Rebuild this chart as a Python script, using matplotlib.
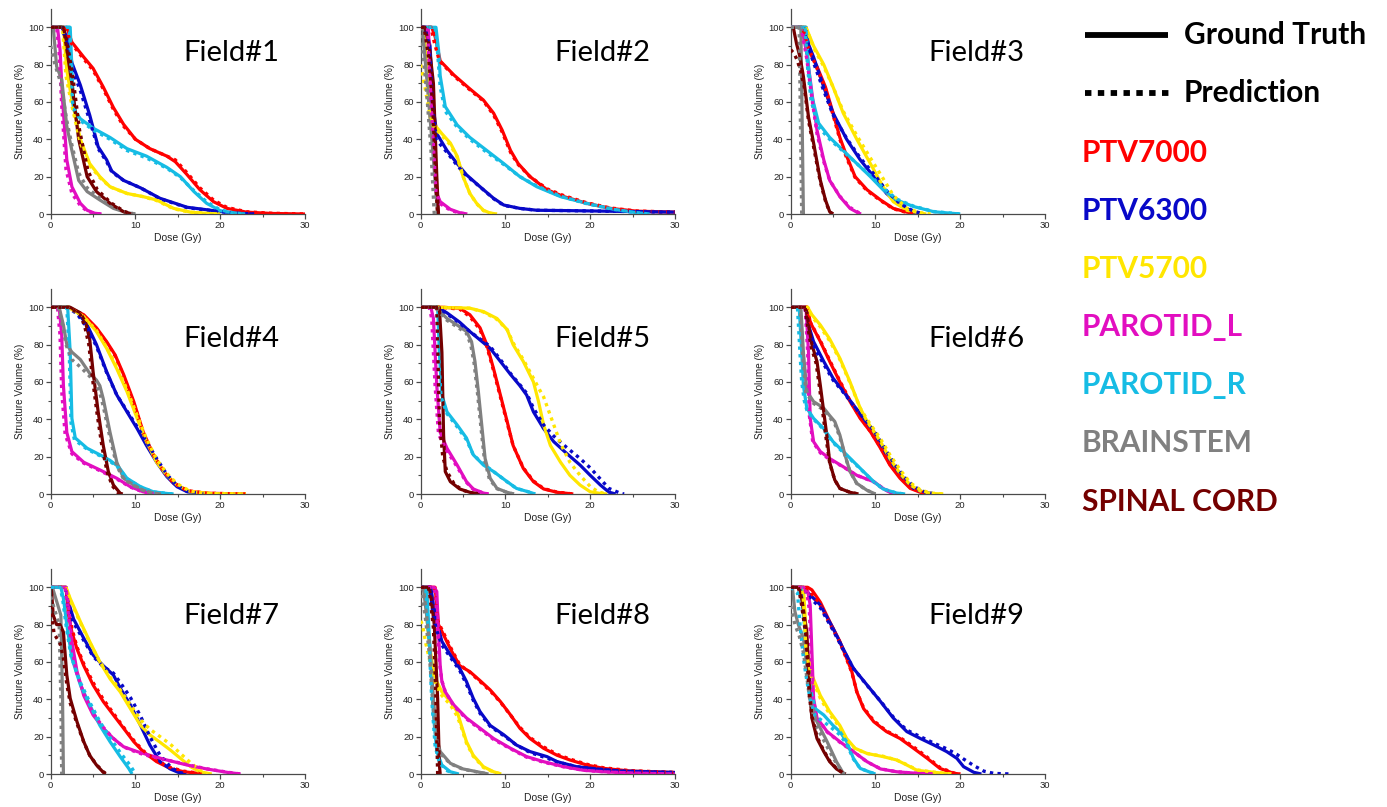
import matplotlib
matplotlib.use("Agg")
import matplotlib.pyplot as plt
from matplotlib.lines import Line2D

STRUCTURES = ["PTV7000", "PTV6300", "PTV5700", "PAROTID_L", "PAROTID_R", "BRAINSTEM", "SPINAL CORD"]
COLORS = ["#FF0000", "#0808C8", "#FFE600", "#E20EC0", "#16BCE4", "#808080", "#740000"]
FIELD_NAMES = ["Field#1", "Field#2", "Field#3", "Field#4", "Field#5", "Field#6", "Field#7", "Field#8", "Field#9"]
X_TICKS = [0, 10, 20, 30]
Y_TICKS = [0, 20, 40, 60, 80, 100]

# ---- Field 1 ----
F1_GT = {
    "PTV7000": [(0,100),(1.9,100),(2.5,92),(3.9,84),(5.0,78),(6.2,68),(7.4,57),(8.6,48),(10,40),(11.7,35),(13.7,31),(14.7,28),(16.1,21),(17.6,13),(19.2,6.6),(20.8,3),(23.1,1),(26,0.3),(30,0)],
    "PTV6300": [(0,100),(1.3,100),(1.9,95),(2.5,81),(3.5,69),(4.6,53),(5.6,36),(6.6,29),(7.2,23),(8.6,18),(10.6,14),(12.9,8.4),(16.1,3.6),(19.2,1.8),(21.6,0.5),(24,0)],
    "PTV5700": [(0,100),(1.5,100),(1.9,77),(2.5,61),(3.5,40),(4.6,27),(5.8,20),(7.0,14.6),(9.0,11),(10.9,9.3),(12.5,7.5),(14.5,3),(16.5,1),(18.5,0.3),(20,0)],
    "PAROTID_L": [(0,100),(0.8,100),(1.1,88),(1.4,61),(1.9,29),(2.5,14.6),(3.5,5.7),(4.3,2),(5.2,0.4),(6,0)],
    "PAROTID_R": [(0,100),(2.3,100),(2.7,56),(3.5,51),(5.0,46),(7.0,41),(9.0,35),(11.3,31),(13.7,25),(15.3,20),(16.9,12),(18.4,5.7),(20,1.8),(21.6,0.5),(23,0)],
    "BRAINSTEM": [(0,100),(0.3,100),(0.7,79),(1.3,72),(1.9,47),(2.5,34),(3.3,18),(4.3,12),(5.8,7.5),(7.4,3),(9.0,0.7),(10,0)],
    "SPINAL CORD": [(0,100),(1.5,100),(1.9,88),(2.5,70),(3.3,40),(4.3,20),(5.4,12),(7.0,5.7),(8.6,1.2),(9.5,0)],
}
F1_PRED = {
    "PTV7000": [(0,100),(1.8,100),(2.2,94),(2.5,91),(3.9,83),(5.0,77),(6.2,67),(7.4,56),(8.6,47),(10,40),(11.7,35),(13.7,31),(14.7,29),(16.1,22),(17.6,14),(19.2,7.5),(20.8,3.5),(23.1,1.2),(26,0.4),(30,0)],
    "PTV6300": [(0,100),(1.2,100),(1.9,93),(2.5,78),(3.5,66),(4.6,50),(5.6,35),(6.6,28),(7.2,22.5),(8.6,18),(10.6,14),(12.9,8.2),(16.1,3.4),(19.2,1.7),(21.6,0.5),(24,0)],
    "PTV5700": [(0,100),(1.4,100),(1.8,74),(2.5,58),(3.5,38),(4.6,26),(5.8,19.5),(7.0,14.5),(9.0,11),(10.9,9.3),(12.5,7.2),(14.5,2.8),(16.5,0.9),(18.5,0.3),(20,0)],
    "PAROTID_L": [(0,100),(0.7,100),(1.0,86),(1.3,58),(1.8,24),(2.5,11),(3.5,4.5),(4.3,1.5),(5.2,0.3),(6,0)],
    "PAROTID_R": [(0,100),(2.2,100),(2.6,58),(3.5,50),(5.0,45),(7.0,40),(9.0,34),(11.3,30),(13.7,24.5),(15.3,19.5),(16.9,12.5),(18.4,6.5),(20,2.2),(21.6,0.6),(23,0)],
    "BRAINSTEM": [(0,90),(0.5,80),(1.2,70),(1.9,50),(2.5,37),(3.3,22),(4.3,14),(5.8,8.5),(7.4,3.5),(9.0,0.8),(10,0)],
    "SPINAL CORD": [(0,100),(1.5,100),(2.0,90),(2.6,74),(3.4,45),(4.4,23),(5.5,13),(7.1,6),(8.7,1.3),(9.6,0)],
}

# ---- Field 2 ----
F2_GT = {
    "PTV7000": [(0,100),(1.3,100),(1.7,95),(2.3,82),(3.9,74.5),(5.8,67),(7.4,61),(8.6,54),(9.6,45),(10.6,34),(11.5,27),(12.9,20),(14.9,13),(16.9,9.3),(19.6,5.7),(22.4,3),(25.5,1.5),(30,1)],
    "PTV6300": [(0,100),(0.6,100),(1.1,90),(1.5,56),(1.9,43),(3.1,34),(4.3,27),(5.4,21),(7.0,14.6),(8.6,8.4),(9.8,4.8),(11.7,3),(13.7,2),(17.6,1.8),(25,1.3),(30,1)],
    "PTV5700": [(0,100),(0.3,100),(0.5,92),(0.9,70),(1.1,52),(1.5,48.6),(2.5,43),(3.5,38),(4.3,31),(5.0,20),(5.8,11),(6.6,5.7),(7.4,2),(8.2,0.5),(9,0)],
    "PAROTID_L": [(0,100),(0.9,100),(1.1,79),(1.5,43),(1.9,11),(2.3,6.6),(3.5,2.5),(4.6,0.7),(5.5,0)],
    "PAROTID_R": [(0,100),(1.8,100),(2.1,88),(2.3,74),(2.9,57.5),(4.3,47.7),(5.8,41),(7.8,34),(9.8,27),(11.7,20),(13.7,14.6),(16.5,9.3),(19.6,5.7),(22.8,2.5),(25.5,0.7),(27,0)],
    "BRAINSTEM": [(0,100),(0.2,100),(0.8,68),(1.4,35),(2.0,0)],
    "SPINAL CORD": [(0,100),(0.5,100),(1.0,90),(1.5,70),(1.9,20),(2.1,0)],
}
F2_PRED = {
    "PTV7000": [(0,100),(1.2,100),(1.6,92),(2.2,82),(3.9,74),(5.8,66.5),(7.4,60.5),(8.6,53),(9.6,44),(10.6,33),(11.5,26.5),(12.9,20),(14.9,13.5),(16.9,9.8),(19.6,6),(22.4,3.2),(25.5,1.6),(30,1)],
    "PTV6300": [(0,100),(0.5,100),(1.0,90),(1.4,58),(1.8,40),(3.1,33),(4.3,26),(5.4,20.5),(7.0,14.5),(8.6,8.2),(9.8,4.6),(11.7,3),(13.7,2),(17.6,1.8),(25,1.3),(30,1)],
    "PTV5700": [(0,80),(0.5,68),(1.0,55),(1.5,47),(2.5,42),(3.5,37),(4.3,30.5),(5.0,20),(5.8,11),(6.6,5.5),(7.4,1.8),(8.2,0.4),(9,0)],
    "PAROTID_L": [(0,100),(0.8,100),(1.0,80),(1.4,45),(1.8,12),(2.3,5.5),(3.5,2),(4.6,0.5),(5.5,0)],
    "PAROTID_R": [(0,100),(1.7,100),(2.0,86),(2.3,68),(2.9,55),(4.3,46.5),(5.8,40),(7.8,33),(9.8,26.5),(11.7,20),(13.7,15),(16.5,9.5),(19.6,5.5),(22.8,2.4),(25.5,0.7),(27,0)],
    "BRAINSTEM": [(0,100),(0.1,95),(0.7,65),(1.2,35),(1.6,0)],
    "SPINAL CORD": [(0,100),(0.4,100),(0.9,85),(1.4,60),(1.8,15),(2.0,0)],
}

# ---- Field 3 ----
F3_GT = {
    "PTV7000": [(0,100),(1.5,100),(2.1,88),(3.1,79),(4.1,68),(5.0,54),(5.8,41),(6.6,31),(7.6,20),(9.0,13),(10.6,7.5),(12.1,3),(13.7,1),(15,0)],
    "PTV6300": [(0,100),(1.8,100),(2.1,91),(2.7,84),(3.9,68),(5.0,54),(6.6,40),(8.2,29),(9.8,20),(11.3,11),(12.9,4.8),(14.5,1.2),(15.5,0)],
    "PTV5700": [(0,100),(1.8,100),(2.7,90),(3.9,80),(5.0,68),(6.2,54),(7.8,40),(9.4,27),(10.9,14.6),(12.1,6.6),(13.7,2),(15.3,0.5),(16,0)],
    "PAROTID_L": [(0,100),(1.2,100),(1.5,95),(1.9,86),(2.5,65),(3.1,45),(3.9,29),(4.6,18),(5.8,9.3),(7.0,3),(8.0,0.5),(8.3,0)],
    "PAROTID_R": [(0,100),(1.8,100),(2.1,79),(2.5,63),(3.3,48.6),(4.6,41),(6.2,34),(7.8,27),(9.4,20),(10.9,13),(12.5,7.5),(14.5,4),(16.9,1.2),(20,0)],
    "BRAINSTEM": [(0,100),(1.2,100),(1.35,50),(1.5,0)],
    "SPINAL CORD": [(0,100),(0.3,100),(0.7,91),(1.1,84),(1.5,73.6),(2.1,52),(2.7,38),(3.5,18),(4.1,7.5),(4.6,1.2),(5.0,0)],
}
F3_PRED = {
    "PTV7000": [(0,100),(1.4,100),(2.0,90),(3.1,78),(4.1,67),(5.0,53),(5.8,40),(6.6,30),(7.6,19.5),(9.0,12.5),(10.6,7.2),(12.1,2.8),(13.7,0.8),(15,0)],
    "PTV6300": [(0,100),(1.8,100),(2.1,89),(2.7,81),(3.9,66),(5.0,53),(6.6,40.5),(8.2,30),(9.8,21.5),(11.3,12.5),(12.9,5.5),(14.5,1.5),(15.7,0)],
    "PTV5700": [(0,100),(1.8,100),(2.7,89),(3.9,79),(5.0,68),(6.2,55),(7.8,42),(9.4,30),(10.9,19),(12.1,10),(13.7,3),(15.3,0.7),(16.5,0)],
    "PAROTID_L": [(0,100),(1.1,100),(1.5,93),(1.9,83),(2.5,62),(3.1,43),(3.9,28),(4.6,18),(5.8,9.5),(7.0,3.5),(8.0,0.8),(8.4,0)],
    "PAROTID_R": [(0,100),(1.7,100),(2.0,78),(2.4,61),(3.2,47),(4.6,40),(6.2,33.5),(7.8,27),(9.4,20.5),(10.9,14),(12.5,8),(14.5,4.2),(16.9,1.3),(20,0)],
    "BRAINSTEM": [(0,100),(1.0,100),(1.15,50),(1.3,0)],
    "SPINAL CORD": [(0,88),(0.4,86),(0.8,82),(1.2,76),(1.6,68),(2.1,50),(2.7,36),(3.5,17),(4.1,7),(4.6,1),(5.0,0)],
}

# ---- Field 4 ----
F4_GT = {
    "PTV7000": [(0,100),(2.1,100),(3.9,96),(5.4,89),(6.6,81.6),(7.6,74.5),(8.6,64),(9.8,49.5),(10.9,33.4),(12.1,21),(13.3,12),(14.5,5.7),(16.1,1.6),(18.4,0.4),(23,0)],
    "PTV6300": [(0,100),(2.1,100),(3.1,97.7),(4.3,90.5),(5.4,80),(6.6,65.5),(7.8,53),(9.0,44),(10.2,35),(11.3,26),(12.5,17),(13.7,9.3),(14.9,3.9),(16.1,1.2),(18,0)],
    "PTV5700": [(0,100),(2.1,100),(3.9,95),(5.4,87),(6.6,78),(7.8,67),(9.0,54.8),(10.2,40.5),(11.3,28),(12.5,17),(13.7,10),(14.9,4.8),(16.5,1.2),(19,0.2),(23,0)],
    "PAROTID_L": [(0,100),(1.0,100),(1.3,85),(1.5,58),(1.9,33),(2.5,22.7),(3.9,17),(5.8,12.9),(7.8,8.4),(9.4,3.9),(10.9,1.2),(12.1,0.2),(12.5,0)],
    "PAROTID_R": [(0,100),(2.0,100),(2.3,76),(2.5,40.5),(2.9,30),(4.3,24.5),(5.8,21),(7.0,18),(8.0,14.6),(9.0,8.4),(10.6,3.9),(12.1,1.2),(13.7,0.3),(14.5,0)],
    "BRAINSTEM": [(0,100),(1.0,100),(1.5,90.5),(1.9,80),(2.5,76),(3.5,72),(4.6,64.6),(5.4,61),(5.8,58),(6.2,51),(7.0,33),(7.8,17),(8.6,8.4),(9.8,4.8),(10.9,2),(12.1,0.5),(13,0)],
    "SPINAL CORD": [(0,100),(2.3,100),(3.5,97),(4.1,92),(4.6,83),(5.0,65.5),(5.6,44),(6.2,26),(6.8,12),(7.4,4.8),(8.2,0.4),(8.5,0)],
}
F4_PRED = {
    "PTV7000": [(0,100),(2.0,100),(3.9,95.5),(5.4,88.5),(6.6,81),(7.6,74),(8.6,63),(9.8,48.5),(10.9,33),(12.1,21),(13.3,12.3),(14.5,6),(16.1,1.8),(18.4,0.4),(23,0)],
    "PTV6300": [(0,100),(2.0,100),(3.1,96.5),(4.3,89),(5.4,79),(6.6,65),(7.8,53),(9.0,44.5),(10.2,36),(11.3,28),(12.5,19),(13.7,10.5),(14.9,4.5),(16.1,1.4),(18,0)],
    "PTV5700": [(0,100),(2.1,100),(3.9,95),(5.4,87.5),(6.6,78.5),(7.8,68),(9.0,56),(10.2,42),(11.3,29.5),(12.5,18.5),(13.7,11),(14.9,5.5),(16.5,1.4),(19,0.2),(23,0)],
    "PAROTID_L": [(0,100),(0.8,100),(1.1,85),(1.3,55),(1.7,32),(2.5,21.5),(3.9,16.5),(5.8,12.5),(7.8,8),(9.4,3.7),(10.9,1.1),(12.1,0.2),(12.5,0)],
    "PAROTID_R": [(0,100),(1.9,100),(2.2,74),(2.4,38),(2.8,29),(4.3,24),(5.8,20.5),(7.0,17.5),(8.0,14),(9.0,8.2),(10.6,3.8),(12.1,1.1),(13.7,0.3),(14.5,0)],
    "BRAINSTEM": [(0,100),(0.9,100),(1.4,90),(1.8,80),(2.5,72),(3.5,68),(4.6,63),(5.4,58),(5.8,54),(6.2,47),(7.0,30),(7.8,15),(8.6,8),(9.8,4.5),(10.9,2),(12.1,0.5),(13,0)],
    "SPINAL CORD": [(0,100),(2.2,100),(3.5,96),(4.0,90),(4.5,80),(4.9,63),(5.5,42),(6.1,24),(6.7,11),(7.3,4.2),(8.0,0.4),(8.3,0)],
}

# ---- Field 5 ----
F5_GT = {
    "PTV7000": [(0,100),(2.5,100),(4.6,99.5),(5.8,96),(7.0,89),(7.8,80),(8.6,67),(9.4,53),(10.2,38.8),(10.9,26),(12.1,13.75),(13.3,6.6),(14.5,2.7),(16.1,0.9),(18,0)],
    "PTV6300": [(0,100),(2.0,100),(3.1,97),(4.6,92),(5.8,87),(7.0,82.5),(8.2,78),(9.4,71),(10.6,64),(11.7,58),(12.5,53),(13.3,44),(14.5,35),(15.7,28),(17.2,21.8),(18.8,15.5),(20,10),(21.2,4.8),(22.2,1),(23,0)],
    "PTV5700": [(0,100),(2.0,100),(5.8,99.5),(7.4,97.7),(9.0,94),(10.2,88),(10.9,80),(12.1,71),(13.3,60),(13.9,49.5),(14.5,37),(15.3,26),(16.5,17),(17.6,10),(18.8,4.8),(20,1.2),(21.2,0.3),(22,0)],
    "PAROTID_L": [(0,100),(1.2,100),(1.5,94),(1.9,58),(2.3,33),(3.1,24.5),(4.3,15.5),(5.4,6.6),(6.2,2.7),(7.4,0.5),(8,0)],
    "PAROTID_R": [(0,100),(2.0,100),(2.2,76),(2.5,53),(3.1,44),(4.3,37),(5.4,30),(6.2,21),(7.4,15.5),(8.6,12),(10.2,6.6),(11.3,3),(12.9,0.9),(13.5,0)],
    "BRAINSTEM": [(0,100),(1.5,100),(1.9,99.5),(3.1,94),(4.3,90.5),(5.4,87),(6.0,81.6),(6.4,71),(6.8,55),(7.2,37),(7.6,19),(8.2,8.4),(9.0,3),(10.2,0.9),(11,0)],
    "SPINAL CORD": [(0,100),(2.2,100),(2.5,76),(2.7,31.6),(2.9,12),(3.5,6.6),(4.6,2.7),(5.8,0.9),(7,0)],
}
F5_PRED = {
    "PTV7000": [(0,100),(2.4,100),(4.6,99),(5.8,95),(7.0,88),(7.8,79),(8.6,66),(9.4,52),(10.2,38),(10.9,26),(12.1,14),(13.3,7),(14.5,2.9),(16.1,1),(18,0)],
    "PTV6300": [(0,100),(2.0,100),(3.1,96.5),(4.6,91.5),(5.8,87),(7.0,83),(8.2,79),(9.4,72),(10.6,64.5),(11.7,58.5),(12.5,54),(13.3,46),(14.5,37),(15.7,31),(17.2,25),(18.8,19),(20,14),(21.2,8),(22.2,3),(23.5,0.5),(24,0)],
    "PTV5700": [(0,100),(2.0,100),(5.8,99.5),(7.4,97.5),(9.0,93.5),(10.2,88),(10.9,81),(12.1,72),(13.3,62),(14.0,56),(14.5,52),(15.3,42),(16.5,27),(17.6,17),(18.8,10),(20,4),(21,1),(22,0)],
    "PAROTID_L": [(0,100),(1.0,100),(1.3,94),(1.7,58),(2.1,32),(3.1,23),(4.3,14.5),(5.4,6.2),(6.2,2.5),(7.4,0.5),(8,0)],
    "PAROTID_R": [(0,100),(1.9,100),(2.1,74),(2.4,52),(3.1,43),(4.3,36),(5.4,29),(6.2,21),(7.4,16),(8.6,12),(10.2,6.5),(11.3,3),(12.9,0.9),(13.5,0)],
    "BRAINSTEM": [(0,100),(1.4,100),(1.9,99),(3.1,93),(4.3,89.5),(5.4,86),(5.9,80),(6.3,70),(6.7,54),(7.1,36),(7.5,19),(8.1,8),(9.0,2.8),(10.2,0.8),(11,0)],
    "SPINAL CORD": [(0,100),(1.9,100),(2.0,80),(2.2,40),(2.6,20),(3.1,12),(4.0,5),(5.0,2),(6.0,0.5),(6.5,0)],
}

# ---- Field 6 ----
F6_GT = {
    "PTV7000": [(0,100),(2.0,100),(2.3,92),(3.5,81.6),(4.6,71),(5.8,60),(7.0,49.5),(8.2,40.5),(9.4,33.4),(10.6,24.5),(11.7,15.5),(12.9,8.4),(14.1,3),(15.3,0.9),(16,0)],
    "PTV6300": [(0,100),(1.8,100),(2.1,90.5),(2.7,81.6),(3.9,71),(5.0,62),(6.2,55),(7.4,47.7),(8.6,40.5),(9.8,33.4),(10.9,24.5),(12.1,15.5),(13.3,8.4),(14.5,3),(15.7,0.9),(17,0)],
    "PTV5700": [(0,100),(2.0,100),(2.5,96),(3.5,90.5),(4.6,83),(5.8,72.7),(7.0,60),(8.2,46),(9.0,39),(10.6,28),(11.7,19),(12.9,11),(14.1,4.8),(15.3,1.6),(16.5,0.3),(18,0)],
    "PAROTID_L": [(0,100),(1.8,100),(2.1,76),(2.3,40.5),(2.7,28),(3.5,22.7),(4.6,19),(6.2,14.6),(7.8,10),(9.8,6.6),(10.9,3),(11.9,0.4),(12.5,0)],
    "PAROTID_R": [(0,100),(1.0,100),(1.3,76),(1.5,58),(1.9,46),(2.7,40.5),(3.9,35),(5.0,28),(6.6,21),(8.2,13.75),(9.8,6.6),(10.9,2.7),(12.5,0.5),(13.5,0)],
    "BRAINSTEM": [(0,100),(1.2,100),(1.5,76),(1.9,55),(2.7,49.5),(3.9,46),(4.6,42),(5.2,38.8),(5.8,31.6),(6.4,21),(7.0,12),(7.8,5.7),(9.0,2),(9.8,0.4),(10,0)],
    "SPINAL CORD": [(0,100),(1.8,100),(2.1,90.5),(2.5,80),(3.1,71),(3.5,58),(3.9,44),(4.3,30),(4.6,17),(5.2,7.5),(5.8,3),(7.0,0.9),(8,0)],
}
F6_PRED = {
    "PTV7000": [(0,100),(1.9,100),(2.2,93),(3.5,82),(4.6,71.5),(5.8,60.5),(7.0,50),(8.2,41),(9.4,33.5),(10.6,25),(11.7,16),(12.9,9),(14.1,3.5),(15.3,1.1),(16.2,0)],
    "PTV6300": [(0,100),(1.7,100),(2.0,88),(2.7,79),(3.9,69.5),(5.0,61),(6.2,54.5),(7.4,47.5),(8.6,40.5),(9.8,34),(10.9,26),(12.1,17),(13.3,9.5),(14.5,4),(15.7,1.3),(17,0)],
    "PTV5700": [(0,100),(2.0,100),(2.5,95),(3.5,89.5),(4.6,82),(5.8,72),(7.0,59.5),(8.2,46),(9.0,40),(10.6,29.5),(11.7,21),(12.9,13),(14.1,6),(15.3,2.2),(16.5,0.5),(18,0)],
    "PAROTID_L": [(0,100),(1.7,100),(2.0,76),(2.2,42),(2.6,28),(3.5,22),(4.6,18.5),(6.2,14.5),(7.8,10),(9.8,6.5),(10.9,3),(11.9,0.4),(12.5,0)],
    "PAROTID_R": [(0,100),(0.8,100),(1.1,75),(1.3,60),(1.6,50),(1.9,45),(2.7,40),(3.9,34.5),(5.0,27.5),(6.6,20.5),(8.2,13.5),(9.8,6.5),(10.9,2.7),(12.5,0.5),(13.5,0)],
    "BRAINSTEM": [(0,100),(1.1,100),(1.4,75),(1.8,54),(2.7,48.5),(3.9,45),(4.6,41),(5.2,37.5),(5.8,30.5),(6.4,20.5),(7.0,12),(7.8,5.5),(9.0,2),(9.8,0.4),(10,0)],
    "SPINAL CORD": [(0,100),(1.7,100),(2.0,90),(2.4,79),(3.0,70),(3.4,57),(3.8,43),(4.2,29),(4.6,16.5),(5.2,7.5),(5.8,3),(7.0,0.9),(8,0)],
}

# ---- Field 7 ----
F7_GT = {
    "PTV7000": [(0,100),(1.8,100),(2.1,85),(2.5,76),(3.1,67),(3.9,58),(5.0,47.7),(6.2,38.8),(7.4,31.6),(8.6,24.5),(9.8,17.3),(10.9,12),(12.5,6.6),(14.1,3),(15.7,1.2),(17.6,0.3),(18,0)],
    "PTV6300": [(0,100),(1.8,100),(2.1,92),(2.7,83),(3.9,72.7),(5.0,63.75),(6.2,58),(7.4,53),(8.2,46),(9.4,37),(10.6,26),(11.7,15.5),(12.9,6.6),(14.1,2.7),(15.3,0.4),(16,0)],
    "PTV5700": [(0,100),(1.8,100),(2.3,94),(3.5,81.6),(4.6,71),(5.8,60),(7.0,51),(8.2,44),(9.4,35),(10.6,26),(11.7,21),(12.9,17),(14.1,12.9),(15.3,8.4),(16.5,3.9),(17.6,1.2),(19,0)],
    "PAROTID_L": [(0,100),(1.8,100),(2.1,90.5),(2.5,71),(3.1,55),(3.9,42),(5.0,31.6),(6.2,24.5),(7.4,19),(8.6,14.6),(10.2,12),(11.7,10),(13.7,7.5),(16.1,4.8),(18.4,2.7),(20.8,0.9),(22.4,0)],
    "PAROTID_R": [(0,100),(1.2,100),(1.5,94),(1.9,80),(2.5,62),(3.5,47.7),(4.6,37),(5.8,26),(7.0,17.3),(8.2,9.3),(9.2,3),(9.6,0)],
    "BRAINSTEM": [(0,100),(0.2,100),(1.2,85),(1.4,40),(1.5,0)],
    "SPINAL CORD": [(0,100),(0.1,97.7),(0.3,85),(0.7,80),(1.1,80),(1.5,76),(1.9,53),(2.3,40.5),(3.1,28),(3.9,17.3),(4.6,10),(5.4,4.8),(6.2,0.9),(6.5,0)],
}
F7_PRED = {
    "PTV7000": [(0,100),(1.8,100),(2.1,87),(2.5,78),(3.1,68),(3.9,59),(5.0,49),(6.2,40),(7.4,32.5),(8.6,25),(9.8,18),(10.9,12.5),(12.5,7),(14.1,3.5),(15.7,1.5),(17.6,0.4),(18.2,0)],
    "PTV6300": [(0,100),(1.7,100),(2.0,90),(2.7,81),(3.9,71.5),(5.0,63),(6.2,57.5),(7.4,54),(8.2,49),(9.4,41),(10.6,31),(11.7,20),(12.9,10),(14.1,4),(15,1),(16,0)],
    "PTV5700": [(0,100),(1.8,100),(2.3,93),(3.5,81),(4.6,70.5),(5.8,60),(7.0,52),(8.2,45),(9.4,37),(10.6,29),(11.7,24),(12.9,20),(14.1,16),(15.3,11),(16.5,6),(17.6,2),(18.5,0)],
    "PAROTID_L": [(0,100),(1.7,100),(2.0,90),(2.4,70),(3.0,55),(3.9,43),(5.0,32.5),(6.2,25),(7.4,19),(8.6,14.5),(10.2,11.5),(11.7,9.5),(13.7,7.5),(16.1,5),(18.4,2.8),(20.8,1),(22.4,0)],
    "PAROTID_R": [(0,100),(1.1,100),(1.4,94),(1.8,80),(2.4,63),(3.5,49),(4.6,38.5),(5.8,28),(7.0,19.5),(8.2,11.5),(9.4,4.5),(10.0,0)],
    "BRAINSTEM": [(0,95),(1.0,80),(1.2,40),(1.3,0)],
    "SPINAL CORD": [(0,90),(0.4,75),(1.1,70),(1.5,62),(1.9,48),(2.3,38),(3.1,27),(3.9,17),(4.6,10),(5.4,5),(6.2,1.2),(6.6,0)],
}

# ---- Field 8 ----
F8_GT = {
    "PTV7000": [(0,100),(1.7,100),(2.1,80),(2.7,74.5),(3.5,67),(4.6,58),(5.8,54.8),(7.0,50),(8.2,45),(9.4,38.8),(10.6,31.6),(11.7,24.5),(12.9,19),(14.5,13.75),(16.1,10),(17.6,7.5),(19.6,4.8),(21.6,3),(24.7,1.6),(30,0.8)],
    "PTV6300": [(0,100),(1.2,100),(1.5,90.5),(1.9,81.6),(2.5,71),(3.5,63.75),(4.6,56.6),(5.4,49.5),(6.2,40.5),(7.0,33.4),(8.2,26),(9.8,21),(11.3,15.5),(12.9,12),(14.9,9.3),(16.1,6.6),(18.4,3.9),(20.8,2.7),(23.5,1.6),(30,0.8)],
    "PTV5700": [(0,100),(0.5,100),(0.7,85),(1.1,67),(1.5,55),(1.9,49.5),(2.5,44),(3.5,38.8),(4.3,33.4),(4.8,26),(5.4,17.3),(6.2,10),(7.4,3.9),(8.6,1.2),(9.5,0)],
    "PAROTID_L": [(0,100),(1.6,100),(1.9,97.7),(2.1,76),(2.3,58),(2.5,49.5),(2.9,44),(3.9,37),(5.4,30),(7.0,24.5),(8.6,19),(10.6,13.75),(12.5,9.3),(14.5,6.6),(16.9,3.9),(19.2,2),(21.6,1.2),(25,0.5),(30,0)],
    "PAROTID_R": [(0,100),(0.7,100),(1.1,67),(1.5,31.6),(1.9,12),(2.5,4.8),(3.5,1.2),(4.5,0)],
    "BRAINSTEM": [(0,100),(0.3,100),(0.7,85),(1.1,67),(1.5,40.5),(1.9,19),(2.3,12),(3.5,5.7),(5.0,2.7),(7.0,0.9),(8,0)],
    "SPINAL CORD": [(0,100),(1.0,100),(1.2,95),(1.6,80),(2.0,40),(2.2,5),(2.3,0)],
}
F8_PRED = {
    "PTV7000": [(0,100),(1.6,100),(2.0,82),(2.7,75.5),(3.5,68),(4.6,58.5),(5.8,54.5),(7.0,49.5),(8.2,44.5),(9.4,38.5),(10.6,31.5),(11.7,25),(12.9,19.5),(14.5,14.5),(16.1,10.5),(17.6,8),(19.6,5.2),(21.6,3.3),(24.7,1.8),(30,0.8)],
    "PTV6300": [(0,100),(1.1,100),(1.4,88),(1.8,78),(2.5,69),(3.5,62.5),(4.6,55.5),(5.4,48),(6.2,39.5),(7.0,32.5),(8.2,25.5),(9.8,20.5),(11.3,15.5),(12.9,11.5),(14.9,8.5),(16.1,6.5),(18.4,3.9),(20.8,2.7),(23.5,1.6),(30,0.8)],
    "PTV5700": [(0,82),(0.2,80),(0.6,70),(1.1,60),(1.5,52),(1.9,47),(2.5,42),(3.5,37),(4.3,31),(4.8,25),(5.4,16.5),(6.2,9.5),(7.4,3.5),(8.6,1),(9.5,0)],
    "PAROTID_L": [(0,100),(1.5,100),(1.8,96),(2.0,76),(2.2,60),(2.5,50),(2.9,44),(3.9,36.5),(5.4,29.5),(7.0,24),(8.6,18.5),(10.6,13.5),(12.5,9),(14.5,6.3),(16.9,3.8),(19.2,2),(21.6,1.2),(25,0.5),(30,0)],
    "PAROTID_R": [(0,100),(0.6,100),(1.0,70),(1.3,40),(1.7,15),(2.2,6),(3.0,2),(4.0,0)],
    "BRAINSTEM": [(0,100),(0.2,95),(0.6,82),(1.0,65),(1.4,40),(1.8,20),(2.3,11),(3.5,5.5),(5.0,2.5),(7.0,0.8),(8,0)],
    "SPINAL CORD": [(0,100),(0.9,100),(1.1,95),(1.5,78),(1.8,40),(2.0,0)],
}

# ---- Field 9 ----
F9_GT = {
    "PTV7000": [(0,100),(2.0,100),(2.5,98.6),(3.5,92),(4.6,81.6),(5.8,71),(6.6,62),(7.2,55),(7.8,44),(8.6,35),(9.8,28),(11.3,22.7),(12.9,19),(14.5,13.75),(16.1,8.4),(17.6,3),(19.2,0.4),(20,0)],
    "PTV6300": [(0,100),(1.5,100),(1.9,97.7),(3.5,90.5),(5.0,78),(6.2,67),(7.4,56.6),(9.0,47.7),(10.6,38.8),(12.1,30),(13.7,22.7),(15.3,19),(16.9,15.5),(18.4,12),(19.6,8.4),(20.4,3.9),(21.6,0.9),(22.5,0)],
    "PTV5700": [(0,100),(1.5,100),(1.7,85),(1.9,67),(2.5,53),(3.5,42),(4.6,33.4),(5.8,26),(6.6,19),(7.6,13.75),(9.0,11),(10.9,9.3),(12.5,7.5),(13.7,4.8),(14.9,2),(16.9,0.9),(19,0)],
    "PAROTID_L": [(0,100),(1.5,100),(2.0,98),(2.3,90.5),(2.7,40.5),(3.1,30),(4.3,22.7),(5.8,17.3),(7.4,12),(9.0,6.6),(10.6,2.7),(12.5,1.2),(15,0.3),(17,0)],
    "PAROTID_R": [(0,100),(1.2,100),(1.5,85),(1.9,67),(2.3,46),(2.9,35),(3.9,31.6),(5.0,26),(5.8,22.7),(6.6,17.3),(7.4,8.4),(8.2,3),(9.4,0.9),(10,0)],
    "BRAINSTEM": [(0,100),(0.2,100),(0.5,87),(0.9,80),(1.5,72.7),(1.9,58),(2.3,40.5),(3.1,28),(4.3,17.3),(5.4,6.6),(6.2,0.4),(6.5,0)],
    "SPINAL CORD": [(0,100),(1.0,100),(1.3,94),(1.9,76),(2.3,40.5),(2.5,30),(3.1,19),(3.9,12),(4.6,6.6),(5.4,2.7),(6.2,0.4),(6.5,0)],
}
F9_PRED = {
    "PTV7000": [(0,100),(1.8,100),(2.4,97),(3.5,90),(4.6,80.5),(5.8,70.5),(6.6,61.5),(7.2,54.5),(7.8,44),(8.6,35.5),(9.8,28.5),(11.3,23),(12.9,19.5),(14.5,14.5),(16.1,9),(17.6,3.5),(19.2,0.6),(20,0)],
    "PTV6300": [(0,100),(1.4,100),(1.9,96),(3.5,89),(5.0,77),(6.2,66.5),(7.4,56.5),(9.0,47.5),(10.6,39),(12.1,30.5),(13.7,23.5),(15.3,20),(16.9,16.5),(18.4,13.5),(19.6,10.5),(20.4,8),(21.6,4.5),(22.8,1.5),(24,0.3),(26,0)],
    "PTV5700": [(0,100),(1.4,100),(1.6,85),(1.8,66),(2.5,51),(3.5,40.5),(4.6,32),(5.8,25),(6.6,18.5),(7.6,13.5),(9.0,11),(10.9,9.5),(12.5,7.5),(13.7,5),(14.9,2.2),(16.9,1),(19,0)],
    "PAROTID_L": [(0,100),(1.4,100),(1.9,97),(2.2,88),(2.6,42),(3.0,31),(4.3,22.5),(5.8,17),(7.4,12),(9.0,6.5),(10.6,2.8),(12.5,1.2),(15,0.3),(17,0)],
    "PAROTID_R": [(0,100),(0.8,97),(1.1,80),(1.5,62),(1.9,50),(2.3,40),(2.9,31),(3.9,28),(5.0,24),(5.8,21),(6.6,16),(7.4,8),(8.2,3),(9.4,0.9),(10,0)],
    "BRAINSTEM": [(0,90),(0.5,80),(1.0,74),(1.5,65),(1.9,52),(2.3,38),(3.1,25),(4.3,14.5),(5.4,5.5),(6.2,0.4),(6.5,0)],
    "SPINAL CORD": [(0,100),(0.9,100),(1.2,93),(1.8,74),(2.2,42),(2.5,31),(3.1,20),(3.9,12.5),(4.6,7),(5.4,3),(6.2,0.5),(6.5,0)],
}

FIELDS_GT = [F1_GT, F2_GT, F3_GT, F4_GT, F5_GT, F6_GT, F7_GT, F8_GT, F9_GT]
FIELDS_PRED = [F1_PRED, F2_PRED, F3_PRED, F4_PRED, F5_PRED, F6_PRED, F7_PRED, F8_PRED, F9_PRED]

# ---------------- drawing ----------------
W, H = 1387, 807
fig = plt.figure(figsize=(W / 100, H / 100), dpi=100)
fig.patch.set_facecolor("white")

col_left_px = [50.7, 420.7, 790.7]
row_bottom_px = [214, 494, 774]
ax_w_px, ax_h_px = 254.3, 205.4
title_y = [0.785, 0.755, 0.77]
title_x = [0.71, 0.715, 0.73]

AXIS_COLOR = "#4a4a4a"
for i in range(9):
    r, c = divmod(i, 3)
    left = col_left_px[c] / W
    bottom = 1 - row_bottom_px[r] / H
    ax = fig.add_axes([left, bottom, ax_w_px / W, ax_h_px / H])
    gt = FIELDS_GT[i]
    pr = FIELDS_PRED[i]
    for s, col in zip(STRUCTURES, COLORS):
        d, v = zip(*gt[s])
        ax.plot(d, v, color=col, lw=2.3, solid_capstyle="butt", zorder=2)
    for s, col in zip(STRUCTURES, COLORS):
        d, v = zip(*pr[s])
        ax.plot(d, v, color=col, lw=2.4, linestyle=(0, (1.0, 1.3)), zorder=3)
    ax.set_xlim(0, 30)
    ax.set_ylim(0, 110)
    ax.set_xticks(X_TICKS)
    ax.set_yticks(Y_TICKS)
    ax.set_xticks([5, 15, 25], minor=True)
    ax.set_yticks([10, 30, 50, 70, 90], minor=True)
    for sp in ["top", "right"]:
        ax.spines[sp].set_visible(False)
    for sp in ["left", "bottom"]:
        ax.spines[sp].set_color(AXIS_COLOR)
        ax.spines[sp].set_linewidth(0.9)
    ax.tick_params(axis="both", which="major", direction="out", length=3.5, width=0.9,
                   color=AXIS_COLOR, labelsize=6.8, labelcolor="#222222", pad=1.5)
    ax.tick_params(axis="both", which="minor", direction="out", length=2, width=0.8, color=AXIS_COLOR)
    for lab in ax.get_xticklabels() + ax.get_yticklabels():
        lab.set_fontfamily("Liberation Sans")
    ax.set_xlabel("Dose (Gy)", fontsize=7.5, family="Liberation Sans", color="#222222", labelpad=2.5)
    ax.set_ylabel("Structure Volume (%)", fontsize=7.2, family="Liberation Sans", color="#222222", labelpad=2)
    ax.set_facecolor("none")
    ax.text(title_x[c], title_y[r], FIELD_NAMES[i], transform=ax.transAxes, ha="center", va="center",
            fontsize=21, family="Lato", color="black")

# ---------------- right-hand legend ----------------
def fx(px):
    return px / W

def fy(py):
    return 1 - py / H

fig.add_artist(Line2D([fx(1085), fx(1168)], [fy(35), fy(35)], color="black", lw=4.2, solid_capstyle="butt"))
fig.add_artist(Line2D([fx(1085), fx(1170)], [fy(93), fy(93)], color="black", lw=4.2,
                      linestyle=(0, (1.1, 1.1))))
fig.text(fx(1184), fy(35), "Ground Truth", ha="left", va="center", fontsize=21.5, fontweight="bold",
         family="Lato", color="black")
fig.text(fx(1184), fy(93), "Prediction", ha="left", va="center", fontsize=21.5, fontweight="bold",
         family="Lato", color="black")

legend_y = [153, 211, 269, 327, 385, 443, 502]
for s, col, yy in zip(STRUCTURES, COLORS, legend_y):
    fig.text(fx(1082), fy(yy), s, ha="left", va="center", fontsize=21.5, fontweight="bold",
             family="Lato", color=col)

fig.savefig("out.png", dpi=100, facecolor="white")
